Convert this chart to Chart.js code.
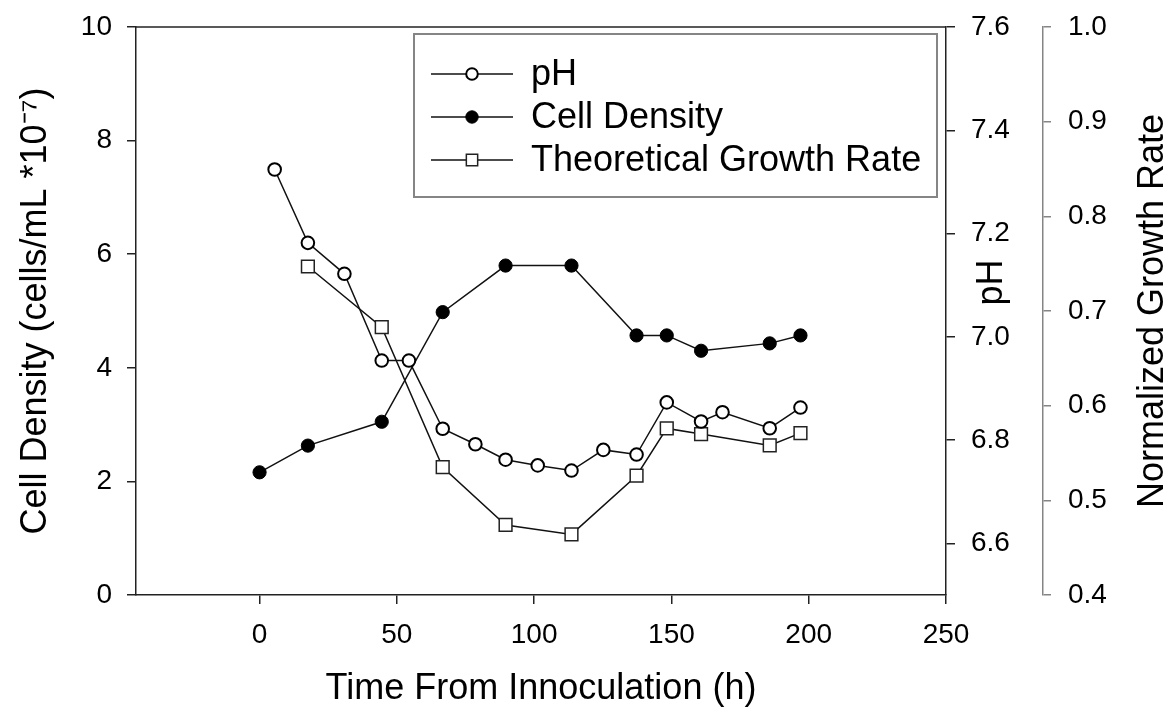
<!DOCTYPE html>
<html><head><meta charset="utf-8">
<script src="https://cdn.jsdelivr.net/npm/chart.js@4.4.1/dist/chart.umd.min.js"></script>
<style>html,body{margin:0;padding:0;background:#fff;}#wrap{width:1176px;height:711px;position:relative;}</style>
</head><body><div id="wrap"><canvas id="c"></canvas></div>
<script>
// ---- data ----
const seriesLabels = ['pH', 'Cell Density', 'Theoretical Growth Rate'];
const phHours = [5.5, 17.6, 30.9, 44.5, 54.4, 66.7, 78.6, 89.6, 101.3, 113.6, 125.2, 137.3, 148.3, 160.8, 168.6, 185.8, 197.0];
const phValues = [7.324, 7.182, 7.122, 6.954, 6.954, 6.822, 6.792, 6.762, 6.751, 6.741, 6.781, 6.772, 6.873, 6.836, 6.854, 6.823, 6.863];
const densityHours = [0, 17.6, 44.5, 66.7, 89.6, 113.6, 137.3, 148.3, 160.8, 185.8, 197.0];
const densityValues = [2.16, 2.63, 3.05, 4.98, 5.80, 5.80, 4.57, 4.57, 4.30, 4.43, 4.57];
const growthHours = [17.6, 44.5, 66.7, 89.6, 113.6, 137.3, 148.3, 160.8, 185.8, 197.0];
const growthValues = [0.747, 0.683, 0.535, 0.474, 0.464, 0.526, 0.576, 0.570, 0.558, 0.571];
const xTicks = [0, 50, 100, 150, 200, 250];
const densityTicks = [0, 2, 4, 6, 8, 10];
const phTicks = [6.6, 6.8, 7.0, 7.2, 7.4, 7.6];
const growthTicks = [0.4, 0.5, 0.6, 0.7, 0.8, 0.9, 1.0];
const xTitle = 'Time From Innoculation (h)';
const densityTitle = 'Cell Density (cells/mL *10\u207B\u2077)';
const phTitle = 'pH';
const growthTitle = 'Normalized Growth Rate';

const FONT = "'Liberation Sans', Arial, Helvetica, sans-serif";
const FRAME = '#222';
const GRAY = '#858585';
const TICK_FONT = {family: FONT, size: 28};
const TITLE_FONT = {family: FONT, size: 36};

const toXY = (xs, ys) => xs.map((x, i) => ({x: x, y: ys[i]}));
const setTicks = list => scale => { scale.ticks = list.map(v => ({value: v})); };
const fixWidth = w => s => { s.width = w; s.paddingTop = 8; s.paddingBottom = 8; };

const frameAndTitles = {
  id: 'frameAndTitles',
  beforeDatasetsDraw(chart) {
    const {ctx, chartArea: a} = chart;
    ctx.save();
    ctx.strokeStyle = FRAME; ctx.lineWidth = 1.5;
    ctx.beginPath(); ctx.moveTo(a.left, a.top); ctx.lineTo(a.right, a.top); ctx.stroke();
    ctx.restore();
  },
  afterDraw(chart) {
    const {ctx, chartArea: a} = chart;
    ctx.save();
    ctx.fillStyle = '#000';
    ctx.font = TITLE_FONT.size + 'px ' + FONT;
    ctx.textAlign = 'center'; ctx.textBaseline = 'middle';
    const ph = chart.scales.yPH, g = chart.scales.yG;
    ctx.save(); ctx.translate(ph.left + 46, a.top + (a.bottom - a.top) * 0.45); ctx.rotate(-Math.PI / 2);
    ctx.fillText(ph.options.title.text, 0, 0); ctx.restore();
    ctx.save(); ctx.translate(g.left + 110, (a.top + a.bottom) / 2); ctx.rotate(-Math.PI / 2);
    ctx.fillText(g.options.title.text, 0, 0); ctx.restore();
    ctx.restore();
  }
};

const boxLegend = {
  id: 'boxLegend',
  afterDraw(chart) {
    const {ctx, chartArea: a} = chart;
    const right = a.right - 9, top = a.top + 7, w = 523, h = 163;
    const left = right - w;
    ctx.save();
    ctx.fillStyle = '#fff';
    ctx.fillRect(left, top, w, h);
    ctx.strokeStyle = GRAY; ctx.lineWidth = 2;
    ctx.strokeRect(left, top, w, h);
    chart.data.datasets.forEach((ds, i) => {
      const y = top + 40 + i * 43;
      ctx.strokeStyle = '#111'; ctx.lineWidth = 1.5;
      ctx.beginPath(); ctx.moveTo(left + 17, y); ctx.lineTo(left + 99, y); ctx.stroke();
      const cx = left + 58;
      ctx.fillStyle = ds.pointBackgroundColor; ctx.strokeStyle = ds.pointBorderColor;
      ctx.lineWidth = ds.pointBorderWidth;
      if (Chart.helpers && Chart.helpers.drawPoint) {
        Chart.helpers.drawPoint(ctx, {pointStyle: ds.pointStyle, radius: ds.legendRadius, borderWidth: ds.pointBorderWidth, rotation: 0}, cx, y);
      }
      ctx.fillStyle = '#000';
      ctx.font = TITLE_FONT.size + 'px ' + FONT;
      ctx.textAlign = 'left'; ctx.textBaseline = 'middle';
      ctx.fillText(ds.label, left + 117, y + 1);
    });
    ctx.restore();
  }
};

new Chart(document.getElementById('c'), {
  type: 'line',
  data: {
    datasets: [
      {label: seriesLabels[0], data: toXY(phHours, phValues), yAxisID: 'yPH',
       borderColor: '#111', borderWidth: 1.5, pointStyle: 'circle', pointRadius: 6.3, pointHoverRadius: 6.3,
       pointBorderWidth: 2, pointBorderColor: '#000', pointBackgroundColor: '#fff', legendRadius: 5.8, tension: 0},
      {label: seriesLabels[1], data: toXY(densityHours, densityValues), yAxisID: 'y',
       borderColor: '#111', borderWidth: 1.5, pointStyle: 'circle', pointRadius: 6.6, pointHoverRadius: 6.6,
       pointBorderWidth: 1, pointBorderColor: '#000', pointBackgroundColor: '#000', legendRadius: 6.2, tension: 0},
      {label: seriesLabels[2], data: toXY(growthHours, growthValues), yAxisID: 'yG',
       borderColor: '#111', borderWidth: 1.5, pointStyle: 'rect', pointRadius: 9, pointHoverRadius: 9,
       pointBorderWidth: 1.5, pointBorderColor: '#222', pointBackgroundColor: '#fff', legendRadius: 8, tension: 0}
    ]
  },
  options: {
    responsive: true, maintainAspectRatio: false, animation: false, events: [],
    layout: {padding: {top: 27, left: 0, right: 0, bottom: 0}},
    plugins: {legend: {display: false}, tooltip: {enabled: false}},
    scales: {
      x: {type: 'linear', position: 'bottom', min: -45, max: 250,
        afterBuildTicks: setTicks(xTicks),
        afterFit: s => { s.height = 116; s.paddingLeft = 0; s.paddingRight = 0; },
        grid: {drawOnChartArea: false, tickLength: 9, color: FRAME, lineWidth: 1.5},
        border: {color: FRAME, width: 1.5},
        ticks: {font: TICK_FONT, color: '#000', padding: 14, maxRotation: 0, autoSkip: false},
        title: {display: true, text: xTitle, font: TITLE_FONT, color: '#000', padding: {top: 0, bottom: 0}}
      },
      y: {type: 'linear', position: 'left', min: 0, max: 10,
        afterBuildTicks: setTicks(densityTicks),
        afterFit: fixWidth(136),
        grid: {drawOnChartArea: false, tickLength: 9, color: FRAME, lineWidth: 1.5},
        border: {color: FRAME, width: 1.5},
        ticks: {font: TICK_FONT, color: '#000', padding: 15},
        title: {display: true, text: densityTitle, font: TITLE_FONT, color: '#000', padding: {top: 14, bottom: 0}}
      },
      yPH: {type: 'linear', position: 'right', min: 6.5, max: 7.6,
        afterBuildTicks: setTicks(phTicks),
        afterFit: fixWidth(97),
        grid: {drawOnChartArea: false, tickLength: 9, color: FRAME, lineWidth: 1.5},
        border: {color: FRAME, width: 1.5},
        ticks: {font: TICK_FONT, color: '#000', padding: 16, callback: v => v.toFixed(1)},
        title: {display: false, text: phTitle}
      },
      yG: {type: 'linear', position: 'right', min: 0.4, max: 1.0,
        afterBuildTicks: setTicks(growthTicks),
        afterFit: fixWidth(133),
        grid: {drawOnChartArea: false, tickLength: 8, color: GRAY, lineWidth: 1.5},
        border: {color: GRAY, width: 1.5},
        ticks: {font: TICK_FONT, color: '#000', padding: 17, callback: v => v.toFixed(1)},
        title: {display: false, text: growthTitle}
      }
    }
  },
  plugins: [frameAndTitles, boxLegend]
});
</script></body></html>
